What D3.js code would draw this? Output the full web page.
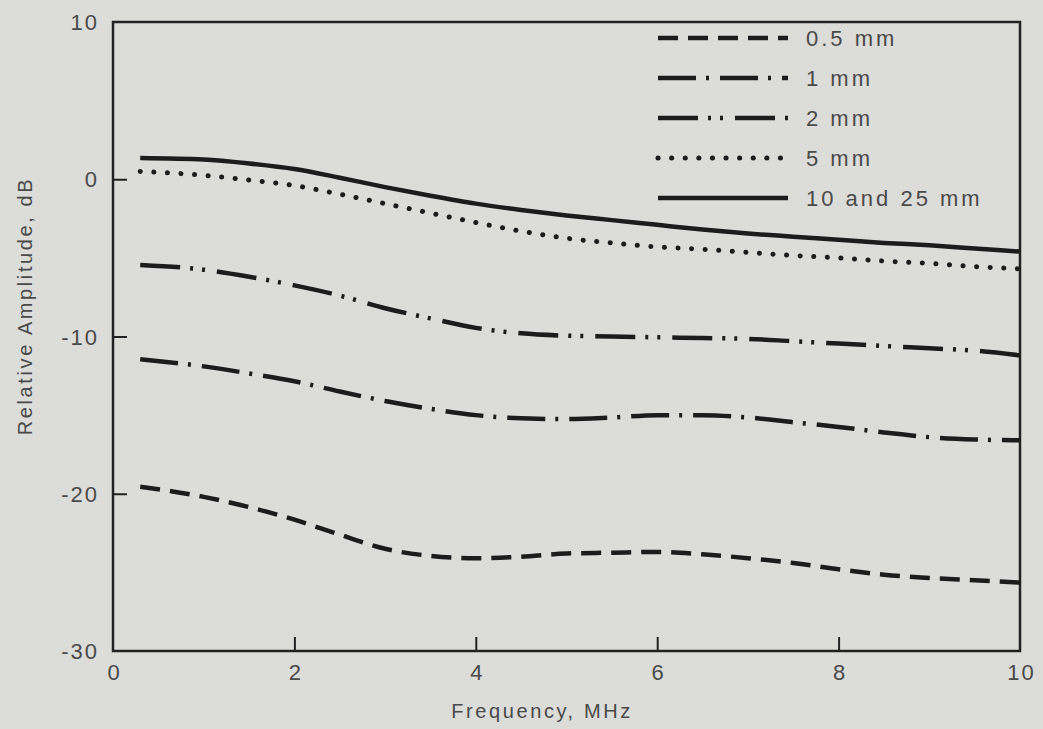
<!DOCTYPE html>
<html>
<head>
<meta charset="utf-8">
<script src="https://cdn.jsdelivr.net/npm/d3@7"></script>
<style>
  body { margin: 0; background: #dcdcd8; }
  .chart text { font-family: "Liberation Sans", Arial, sans-serif; fill: #4a4a4a; }
  .tick-label { font-size: 22px; letter-spacing: 2px; }
  .axis-title { font-size: 20px; letter-spacing: 2.6px; }
  .legend-label { font-size: 22px; letter-spacing: 3px; }
</style>
</head>
<body>
<div class="chart"></div>
<script>
var svgWidth = 1043;
var svgHeight = 729;

// Frequency samples, MHz
var freq = [0.3, 1, 1.5, 2, 2.5, 3, 3.5, 4, 4.5, 5, 5.5, 6, 6.5, 7, 7.5, 8, 8.5, 9, 9.5, 10];

// Relative amplitude, dB, one array per thickness
var mm05 = [-19.55, -20.2, -20.85, -21.65, -22.6, -23.5, -23.95, -24.1, -24.0, -23.8, -23.75, -23.7, -23.85, -24.1, -24.4, -24.8, -25.15, -25.35, -25.5, -25.65];
var mm1 = [-11.45, -11.9, -12.35, -12.85, -13.5, -14.1, -14.6, -15.0, -15.2, -15.25, -15.15, -15.0, -15.0, -15.15, -15.45, -15.75, -16.1, -16.4, -16.55, -16.6];
var mm2 = [-5.45, -5.75, -6.2, -6.75, -7.4, -8.2, -8.85, -9.45, -9.8, -9.95, -10.0, -10.05, -10.1, -10.15, -10.3, -10.45, -10.6, -10.75, -10.9, -11.2];
var mm5 = [0.5, 0.25, -0.05, -0.4, -0.95, -1.55, -2.15, -2.75, -3.3, -3.75, -4.05, -4.3, -4.45, -4.65, -4.85, -5.0, -5.2, -5.35, -5.55, -5.7];
var mm10 = [1.35, 1.25, 1.0, 0.65, 0.1, -0.5, -1.05, -1.55, -1.95, -2.3, -2.6, -2.9, -3.2, -3.45, -3.65, -3.85, -4.05, -4.2, -4.4, -4.6];

var seriesNames = ["0.5 mm", "1 mm", "2 mm", "5 mm", "10 and 25 mm"];
var seriesValues = [mm05, mm1, mm2, mm5, mm10];

var xTicks = [0, 2, 4, 6, 8, 10];
var yTicks = [10, 0, -10, -20, -30];

// line styles per series
var dashes = ["20,10", "38,10,3,11", "40,10,3,9,3,12", "0.1,13.5", null];
var caps = ["butt", "butt", "butt", "round", "butt"];
var widths = [4.5, 4.5, 4.5, 5, 4.5];

var plot = { left: 113, right: 1020, top: 22, bottom: 651 };

var svg = d3.select(".chart")
  .append("svg")
  .attr("width", svgWidth)
  .attr("height", svgHeight);

var x = d3.scaleLinear().domain([0, 10]).range([plot.left, plot.right]);
var y = d3.scaleLinear().domain([-30, 10]).range([plot.bottom, plot.top]);

// Frame
svg.append("rect")
  .attr("x", plot.left)
  .attr("y", plot.top)
  .attr("width", plot.right - plot.left)
  .attr("height", plot.bottom - plot.top)
  .attr("fill", "none")
  .attr("stroke", "#222")
  .attr("stroke-width", 2.5);

// Axes, ticks pointing in; plain hyphen for negatives like the original
var bottomAxis = d3.axisBottom(x).tickValues(xTicks).tickFormat(d => String(d))
  .tickSizeInner(-14).tickSizeOuter(0).tickPadding(21);
var leftAxis = d3.axisLeft(y).tickValues(yTicks).tickFormat(d => String(d))
  .tickSizeInner(-14).tickSizeOuter(0).tickPadding(14);

var gx = svg.append("g")
  .attr("transform", `translate(0, ${plot.bottom})`)
  .call(bottomAxis);

var gy = svg.append("g")
  .attr("transform", `translate(${plot.left}, 0)`)
  .call(leftAxis);

[gx, gy].forEach(function(g) {
  g.select(".domain").remove();
  g.selectAll(".tick line").attr("stroke", "#222").attr("stroke-width", 2);
  g.selectAll(".tick text")
    .attr("class", "tick-label")
    .attr("font-family", null)
    .attr("font-size", null)
    .attr("dy", "0.35em");
});
gx.selectAll(".tick text").attr("dx", "1px");
// the end ticks sit on the frame, no marks needed there
gy.selectAll(".tick").filter(d => d === 10 || d === -30).select("line").remove();
gx.selectAll(".tick").filter(d => d === 0 || d === 10).select("line").remove();

// Curves
var line = d3.line()
  .x(d => x(d[0]))
  .y(d => y(d[1]))
  .curve(d3.curveMonotoneX);

seriesValues.forEach(function(vals, i) {
  var pts = freq.map((f, j) => [f, vals[j]]);
  svg.append("path")
    .datum(pts)
    .attr("d", line)
    .attr("fill", "none")
    .attr("stroke", "#1c1c1c")
    .attr("stroke-width", widths[i])
    .attr("stroke-linecap", caps[i])
    .attr("stroke-dasharray", dashes[i]);
});

// Legend
var legend = svg.append("g");
seriesNames.forEach(function(name, i) {
  var ly = 38 + i * 40;
  legend.append("line")
    .attr("x1", 658)
    .attr("x2", 788)
    .attr("y1", ly)
    .attr("y2", ly)
    .attr("stroke", "#1c1c1c")
    .attr("stroke-width", widths[i])
    .attr("stroke-linecap", caps[i])
    .attr("stroke-dasharray", dashes[i]);
  legend.append("text")
    .attr("class", "legend-label")
    .attr("x", 806)
    .attr("y", ly)
    .attr("dy", "0.35em")
    .text(name);
});

// Axis titles
svg.append("text")
  .attr("class", "axis-title")
  .attr("transform", "rotate(-90)")
  .attr("x", -306)
  .attr("y", 25)
  .attr("dy", "0.35em")
  .attr("text-anchor", "middle")
  .text("Relative Amplitude, dB");

svg.append("text")
  .attr("class", "axis-title")
  .attr("x", 542)
  .attr("y", 711)
  .attr("dy", "0.35em")
  .attr("text-anchor", "middle")
  .text("Frequency, MHz");
</script>
</body>
</html>
